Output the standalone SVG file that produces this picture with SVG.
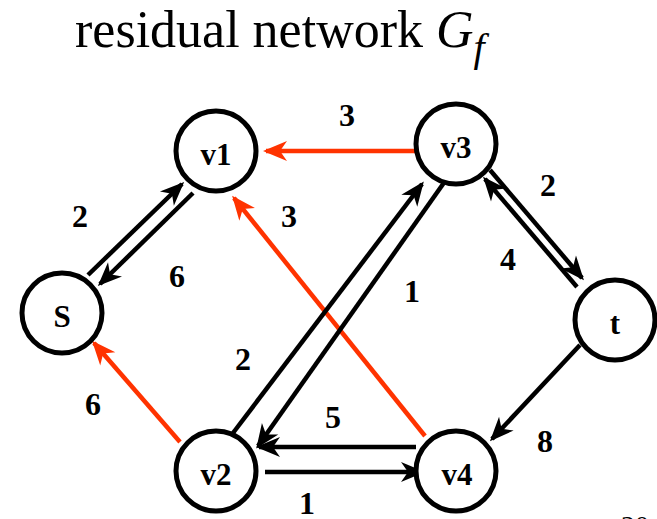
<svg xmlns="http://www.w3.org/2000/svg" width="657" height="519" viewBox="0 0 657 519">
<style>
.node circle{fill:#fff;stroke:#000;stroke-width:5}
.node text{font-family:'Liberation Serif','DejaVu Serif',serif;font-weight:bold;font-size:31px;text-anchor:middle;fill:#000}
.e{fill:none;stroke-width:4.5}
.k{stroke:#000;marker-end:url(#ak)}
.r{stroke:#FF3300;marker-end:url(#ar)}
.lbl{font-family:'Liberation Serif','DejaVu Serif',serif;font-weight:bold;font-size:32px;text-anchor:middle;fill:#000}
.title{font-family:'Liberation Serif','DejaVu Serif',serif;font-size:52px;fill:#000}
.pg{font-family:'Liberation Serif','DejaVu Serif',serif;font-size:28px;fill:#000}
</style>
<defs>
<marker id="ak" markerUnits="userSpaceOnUse" orient="auto" markerWidth="40" markerHeight="40" refX="0" refY="0" viewBox="-30 -15 40 30" overflow="visible">
<path d="M3,0 L-21,-10 L-14,0 L-21,10 Z" fill="#000"/>
</marker>
<marker id="ar" markerUnits="userSpaceOnUse" orient="auto" markerWidth="40" markerHeight="40" refX="0" refY="0" viewBox="-30 -15 40 30" overflow="visible">
<path d="M3,0 L-21,-10 L-14,0 L-21,10 Z" fill="#FF3300"/>
</marker>
</defs>
<text class="title" x="75" y="47">residual network <tspan font-style="italic">G</tspan><tspan font-style="italic" font-size="40" dy="14">f</tspan></text>
<g id="connectors">
<line class="e r" x1="425" y1="151" x2="266" y2="151"/>
<line class="e r" x1="425" y1="436" x2="234" y2="198"/>
<line class="e r" x1="180" y1="442" x2="94" y2="343"/>
<line class="e k" x1="88" y1="275" x2="182" y2="184"/>
<line class="e k" x1="193" y1="193" x2="100" y2="284"/>
<line class="e k" x1="233" y1="433" x2="422" y2="184"/>
<line class="e k" x1="448" y1="177" x2="258" y2="446"/>
<line class="e k" x1="490" y1="170" x2="582" y2="278"/>
<line class="e k" x1="577" y1="287" x2="485" y2="179"/>
<line class="e k" x1="580" y1="345" x2="492" y2="439"/>
<line class="e k" x1="416" y1="447" x2="259" y2="447"/>
<line class="e k" x1="265" y1="472" x2="422" y2="472"/>
</g>
<g id="labels">
<text class="lbl" x="347" y="126">3</text>
<text class="lbl" x="80" y="227">2</text>
<text class="lbl" x="289" y="227">3</text>
<text class="lbl" x="177" y="287">6</text>
<text class="lbl" x="548" y="196">2</text>
<text class="lbl" x="508" y="270">4</text>
<text class="lbl" x="412" y="302">1</text>
<text class="lbl" x="243" y="370">2</text>
<text class="lbl" x="93" y="415">6</text>
<text class="lbl" x="333" y="428">5</text>
<text class="lbl" x="545" y="452">8</text>
<text class="lbl" x="307" y="514">1</text>
</g>
<g id="S" class="node"><circle cx="62" cy="313" r="40"/><text x="62" y="327">S</text></g>
<g id="v1" class="node"><circle cx="216" cy="151" r="40"/><text x="216" y="165">v1</text></g>
<g id="v3" class="node"><circle cx="456" cy="144" r="40"/><text x="456" y="158">v3</text></g>
<g id="t" class="node"><circle cx="615" cy="320" r="40"/><text x="615" y="334">t</text></g>
<g id="v2" class="node"><circle cx="216" cy="471" r="40"/><text x="216" y="485">v2</text></g>
<g id="v4" class="node"><circle cx="456" cy="471" r="40"/><text x="457" y="485">v4</text></g>
<text class="pg" x="621" y="535">20</text>
</svg>
